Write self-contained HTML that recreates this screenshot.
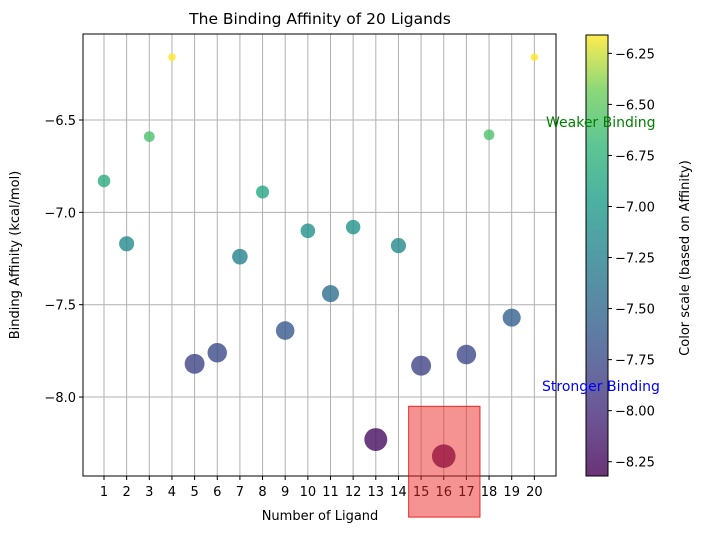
<!DOCTYPE html>
<html><head><meta charset="utf-8"><style>
body{margin:0;background:#fff;}
svg text{font-family:"DejaVu Sans","Liberation Sans",sans-serif;}
</style></head><body>
<svg id="c" width="702" height="532" xmlns="http://www.w3.org/2000/svg">
<defs>
<linearGradient id="vir" x1="0" y1="1" x2="0" y2="0">
<stop offset="0" stop-color="#440154"/><stop offset="0.125" stop-color="#482878"/><stop offset="0.25" stop-color="#3e4989"/><stop offset="0.375" stop-color="#31688e"/><stop offset="0.5" stop-color="#26828e"/><stop offset="0.625" stop-color="#1f9e89"/><stop offset="0.75" stop-color="#35b779"/><stop offset="0.875" stop-color="#6ece58"/><stop offset="1" stop-color="#fde725"/>
</linearGradient>
</defs>
<g id="grid"></g>
<g id="pts"></g>
<g id="over"></g>
</svg>
<script>
const ligands=[1,2,3,4,5,6,7,8,9,10,11,12,13,14,15,16,17,18,19,20];
const affinity=[-6.83,-7.17,-6.59,-6.16,-7.82,-7.76,-7.24,-6.89,-7.64,-7.10,-7.44,-7.08,-8.23,-7.18,-7.83,-8.32,-7.77,-6.58,-7.57,-6.16];
const yTicks=[-6.5,-7.0,-7.5,-8.0];
const cTicks=[-6.25,-6.5,-6.75,-7.0,-7.25,-7.5,-7.75,-8.0,-8.25];
const highlight=[14.45,17.6,-8.05,-8.65];
const NS="http://www.w3.org/2000/svg";
const L=83,R=556,T=34,B=476;
const X=v=>104+(v-1)*22.65;
const Y=v=>120+(-6.5-v)*184.7;
const vmin=Math.min(...affinity),vmax=Math.max(...affinity);
const CT=35,CB=476;
const CY=v=>CT+(vmax-v)/(vmax-vmin)*(CB-CT);
const stops=[[0,[68,1,84]],[0.125,[72,40,120]],[0.25,[62,73,137]],[0.375,[49,104,142]],[0.5,[38,130,142]],[0.625,[31,158,137]],[0.75,[53,183,121]],[0.875,[110,206,88]],[1,[253,231,37]]];
function vir(t){for(let i=1;i<stops.length;i++){if(t<=stops[i][0]){const a=stops[i-1],b=stops[i];const f=(t-a[0])/(b[0]-a[0]);return 'rgb('+a[1].map((c,k)=>Math.round(c+(b[1][k]-c)*f)).join(',')+')';}}return 'rgb(253,231,37)';}
function el(tag,attrs,parent,text){const e=document.createElementNS(NS,tag);for(const k in attrs)e.setAttribute(k,attrs[k]);if(text!==undefined)e.textContent=text;parent.appendChild(e);return e;}
const g=document.getElementById('grid'),p=document.getElementById('pts'),o=document.getElementById('over');
ligands.forEach(v=>{const x=X(v);
let l=el('line',{x1:x,x2:x,y1:T,y2:B,stroke:'#b0b0b0','stroke-width':1},g);

let t=el('line',{x1:x,x2:x,y1:B,y2:B+4,stroke:'#000'},g);

let tx=el('text',{x:x,y:B+20,'font-size':13,'text-anchor':'middle',fill:'#000'},g,String(v));
});
yTicks.forEach(v=>{const y=Y(v);
let l=el('line',{x1:L,x2:R,y1:y,y2:y,stroke:'#b0b0b0','stroke-width':1},g);

let t=el('line',{x1:L-4,x2:L,y1:y,y2:y,stroke:'#000'},g);

let tx=el('text',{x:L-7,y:y+5,'font-size':13,'text-anchor':'end',fill:'#000'},g,'\u2212'+Math.abs(v).toFixed(1));
});
ligands.forEach((v,i)=>{const a=affinity[i];const t=(a-vmin)/(vmax-vmin);
const r=3.8+(vmax-a)/(vmax-vmin)*8;
let c=el('circle',{cx:X(v),cy:Y(a),r:r,fill:vir(t),'fill-opacity':0.8},p);
});
let frame=el('rect',{x:L,y:T,width:R-L,height:B-T,fill:'none',stroke:'#000','stroke-width':1},o);

let hr=el('rect',{x:X(highlight[0]),y:Y(highlight[2]),width:X(highlight[1])-X(highlight[0]),height:Y(highlight[3])-Y(highlight[2]),fill:'rgba(235,40,40,0.5)',stroke:'rgba(230,0,0,0.8)','stroke-width':1},o);

let cb=el('rect',{x:586,y:CT,width:22,height:CB-CT,fill:'url(#vir)','fill-opacity':0.8,stroke:'#000','stroke-width':1},o);

cTicks.forEach(v=>{const y=CY(v);
let t=el('line',{x1:608,x2:612,y1:y,y2:y,stroke:'#000'},o);

let tx=el('text',{x:615,y:y+5,'font-size':13,fill:'#000'},o,'\u2212'+Math.abs(v).toFixed(2));
});
</script>
<svg width="702" height="532" style="position:absolute;left:0;top:0" xmlns="http://www.w3.org/2000/svg">
<text x="320" y="24" font-size="15.5" text-anchor="middle" fill="#000">The Binding Affinity of 20 Ligands</text>
<text x="320" y="520" font-size="13" text-anchor="middle" fill="#000">Number of Ligand</text>
<text transform="translate(19,255) rotate(-90)" font-size="13" text-anchor="middle" fill="#000">Binding Affinity (kcal/mol)</text>
<text transform="translate(689,258) rotate(-90)" font-size="13" text-anchor="middle" fill="#000">Color scale (based on Affinity)</text>
<text x="546" y="127" font-size="14" fill="#008000">Weaker Binding</text>
<text x="542" y="391" font-size="14" fill="#0000ff">Stronger Binding</text>
</svg>
</body></html>
